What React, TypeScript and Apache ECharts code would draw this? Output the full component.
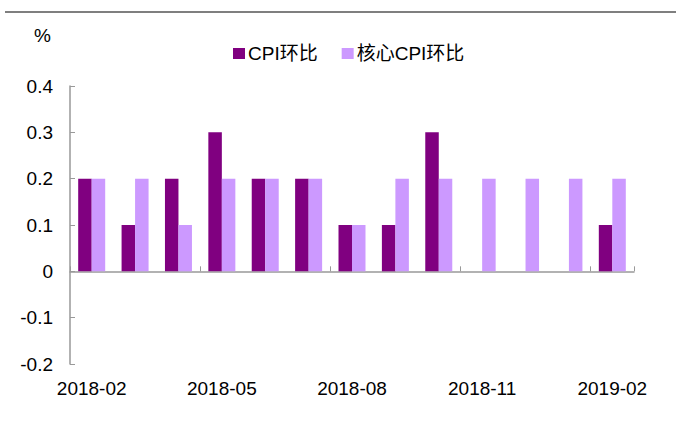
import React, { useEffect, useRef } from "react";
import * as echarts from "echarts";

const categories = [
  "2018-02", "2018-03", "2018-04", "2018-05", "2018-06", "2018-07", "2018-08",
  "2018-09", "2018-10", "2018-11", "2018-12", "2019-01", "2019-02",
];
const cpiMoM = [0.2, 0.1, 0.2, 0.3, 0.2, 0.2, 0.1, 0.1, 0.3, 0, 0, 0, 0.1];
const coreCpiMoM = [0.2, 0.2, 0.1, 0.2, 0.2, 0.2, 0.1, 0.2, 0.2, 0.2, 0.2, 0.2, 0.2];
const seriesNames = ["CPI环比", "核心CPI环比"];
const unitLabel = "%";

const FONT = "'Liberation Sans', Arial, 'Noto Sans CJK SC', sans-serif";

export default function App() {
  const ref = useRef<HTMLDivElement>(null);
  useEffect(() => {
    if (!ref.current) return;
    const chart = echarts.init(ref.current, undefined, { renderer: "svg" });
    chart.setOption({
      animation: false,
      backgroundColor: "#ffffff",
      textStyle: { fontFamily: FONT },
      grid: { left: 70, right: 42, top: 86, bottom: 59, containLabel: false },
      legend: {
        data: seriesNames,
        left: 228,
        top: 39,
        itemWidth: 12,
        itemHeight: 11,
        itemGap: 24,
        icon: "rect",
        textStyle: { fontSize: 19, color: "#000", fontFamily: FONT, padding: [0, 0, 0, -2] },
      },
      graphic: [
        { type: "line", shape: { x1: 5, y1: 12, x2: 676, y2: 12 }, style: { stroke: "#000", lineWidth: 1.2 } },
        { type: "text", left: 34, top: 26, style: { text: unitLabel, fontSize: 19, fill: "#000", fontFamily: FONT } },
      ],
      xAxis: [
        {
          type: "category",
          data: categories,
          position: "bottom",
          axisLine: { show: false, onZero: false },
          axisTick: { show: false },
          axisLabel: { interval: 2, fontSize: 19, color: "#000", margin: 15, fontFamily: FONT },
        },
        {
          type: "category",
          data: categories,
          position: "bottom",
          axisLine: { show: true, onZero: true, lineStyle: { color: "#999", width: 1.5 } },
          axisTick: { show: true, inside: true, interval: 2, length: 5, lineStyle: { color: "#999" } },
          axisLabel: { show: false },
        },
      ],
      yAxis: {
        type: "value",
        min: -0.2,
        max: 0.4,
        interval: 0.1,
        splitLine: { show: false },
        axisLine: { show: true, lineStyle: { color: "#999", width: 1.5 } },
        axisTick: { show: true, inside: true, length: 5, lineStyle: { color: "#999" } },
        axisLabel: {
          fontSize: 19,
          color: "#000",
          margin: 17,
          fontFamily: FONT,
          formatter: (v: number) => String(Number(v.toFixed(1))),
        },
      },
      series: [
        {
          name: seriesNames[0],
          type: "bar",
          data: cpiMoM,
          barWidth: 13.5,
          barGap: "0%",
          itemStyle: { color: "#800080" },
        },
        {
          name: seriesNames[1],
          type: "bar",
          data: coreCpiMoM,
          barWidth: 13.5,
          barGap: "0%",
          itemStyle: { color: "#CC99FF" },
        },
      ],
    });
    return () => chart.dispose();
  }, []);
  return <div ref={ref} style={{ width: 676, height: 423, position: "absolute", left: 0, top: 0 }} />;
}
